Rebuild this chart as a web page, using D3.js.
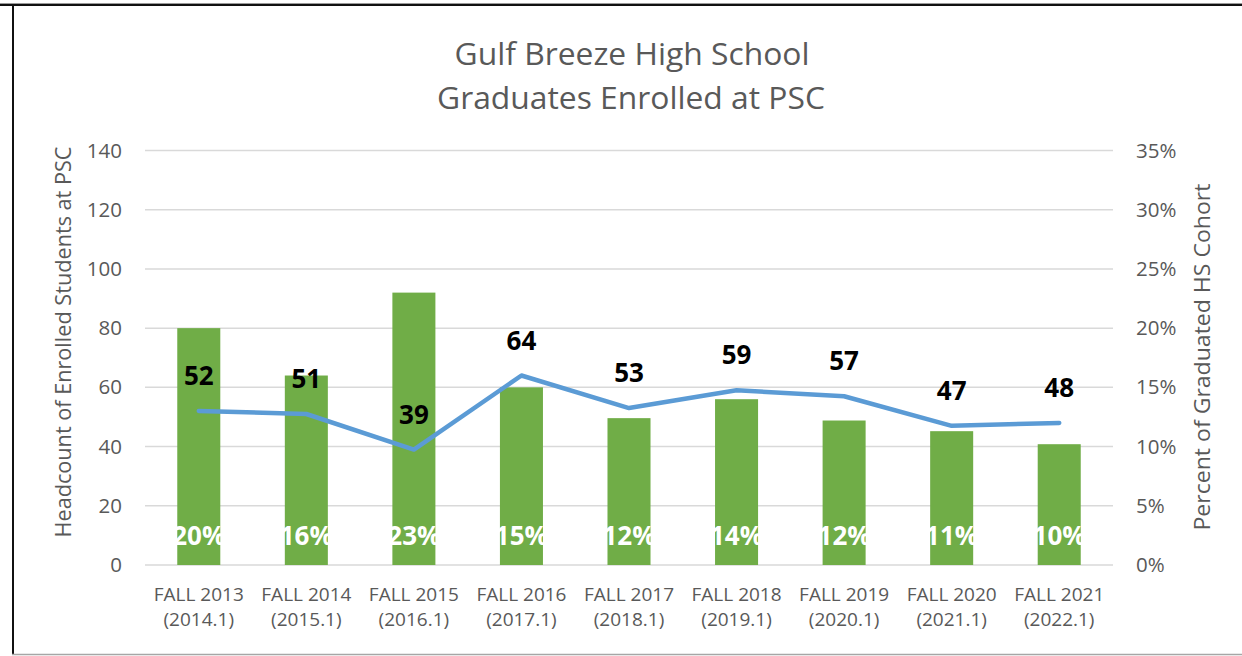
<!DOCTYPE html>
<html lang="en">
<head>
    <meta charset="UTF-8">
    <title>Gulf Breeze High School Graduates Enrolled at PSC</title>
    <script src="https://d3js.org/d3.v7.min.js"></script>
    <style>
        body { margin: 0; background: #fff; }
        svg { display: block; font-family: "Open Sans", sans-serif; }
        .tick text { fill: #595959; font-size: 20.5px; font-family: "Open Sans", sans-serif; }
        .xaxis .tick text { font-size: 19px; }
    </style>
</head>
<body>
    <svg width="1242" height="656"></svg>
    <script>
        // Chart data
        const terms = ["FALL 2013", "FALL 2014", "FALL 2015", "FALL 2016", "FALL 2017",
                       "FALL 2018", "FALL 2019", "FALL 2020", "FALL 2021"];
        const termCodes = ["(2014.1)", "(2015.1)", "(2016.1)", "(2017.1)", "(2018.1)",
                           "(2019.1)", "(2020.1)", "(2021.1)", "(2022.1)"];
        const pctOfCohort = [0.20, 0.16, 0.23, 0.15, 0.124, 0.14, 0.122, 0.113, 0.102];
        const headcount = [52, 51, 39, 64, 53, 59, 57, 47, 48];
        const leftTicks = [0, 20, 40, 60, 80, 100, 120, 140];
        const rightTicks = [0, 0.05, 0.10, 0.15, 0.20, 0.25, 0.30, 0.35];

        const svg = d3.select("svg");
        const plot = { left: 145, right: 1113, top: 150.5, bottom: 565 };

        // frame
        svg.append("line").attr("x1", 0).attr("x2", 1242).attr("y1", 3.5).attr("y2", 3.5)
            .attr("stroke", "#9a9a9a").attr("stroke-width", 1);
        svg.append("line").attr("x1", 0).attr("x2", 1242).attr("y1", 5).attr("y2", 5)
            .attr("stroke", "#111").attr("stroke-width", 2);
        svg.append("line").attr("x1", 13).attr("x2", 13).attr("y1", 5).attr("y2", 655)
            .attr("stroke", "#111").attr("stroke-width", 2);
        svg.append("line").attr("x1", 12).attr("x2", 1242).attr("y1", 654.5).attr("y2", 654.5)
            .attr("stroke", "#a6a6a6").attr("stroke-width", 1.5);

        // scales
        const x = d3.scaleBand().domain(terms).range([plot.left, plot.right])
            .paddingInner(0.6).paddingOuter(0.3);
        const yCount = d3.scaleLinear().domain([0, 140]).range([plot.bottom, plot.top]);
        const yPct = d3.scaleLinear().domain([0, 0.35]).range([plot.bottom, plot.top]);

        // gridlines
        svg.append("g")
            .selectAll("line")
            .data(leftTicks)
            .join("line")
            .attr("x1", plot.left).attr("x2", plot.right)
            .attr("y1", d => yCount(d)).attr("y2", d => yCount(d))
            .attr("stroke", "#d9d9d9").attr("stroke-width", 1.5);

        // axes
        svg.append("g")
            .attr("transform", `translate(${plot.left},0)`)
            .call(d3.axisLeft(yCount).tickValues(leftTicks).tickSize(0).tickPadding(23))
            .call(g => g.select(".domain").remove());

        svg.append("g")
            .attr("transform", `translate(${plot.right},0)`)
            .call(d3.axisRight(yPct).tickValues(rightTicks).tickSize(0).tickPadding(23)
                .tickFormat(d3.format(".0%")))
            .call(g => g.select(".domain").remove());

        const xAxis = svg.append("g")
            .attr("class", "xaxis")
            .attr("transform", `translate(0,${plot.bottom})`)
            .call(d3.axisBottom(x).tickSize(0).tickFormat(""))
            .call(g => g.select(".domain").remove());

        // two-line category labels
        xAxis.selectAll(".tick text").each(function (d, i) {
            const t = d3.select(this).attr("dy", null).attr("y", null);
            t.append("tspan").attr("x", 0).attr("y", 36).text(d);
            t.append("tspan").attr("x", 0).attr("y", 61).text(termCodes[i]);
        });

        // bars (percent of cohort, right axis)
        svg.append("g")
            .selectAll("rect")
            .data(pctOfCohort)
            .join("rect")
            .attr("x", (d, i) => x(terms[i]))
            .attr("y", d => yPct(d))
            .attr("width", x.bandwidth())
            .attr("height", d => plot.bottom - yPct(d))
            .attr("fill", "#70ad47");

        // bar labels
        svg.append("g")
            .selectAll("text")
            .data(pctOfCohort)
            .join("text")
            .attr("x", (d, i) => x(terms[i]) + x.bandwidth() / 2)
            .attr("y", plot.bottom - 20)
            .attr("text-anchor", "middle")
            .attr("font-size", 26)
            .attr("font-weight", "bold")
            .attr("fill", "#fff")
            .text(d => d3.format(".0%")(d));

        // headcount line (left axis)
        const line = d3.line()
            .x((d, i) => x(terms[i]) + x.bandwidth() / 2)
            .y(d => yCount(d));

        svg.append("path")
            .datum(headcount)
            .attr("d", line)
            .attr("fill", "none")
            .attr("stroke", "#5b9bd5")
            .attr("stroke-width", 4.5)
            .attr("stroke-linejoin", "round")
            .attr("stroke-linecap", "round");

        svg.append("g")
            .selectAll("text")
            .data(headcount)
            .join("text")
            .attr("x", (d, i) => x(terms[i]) + x.bandwidth() / 2)
            .attr("y", d => yCount(d) - 26)
            .attr("text-anchor", "middle")
            .attr("font-size", 26)
            .attr("font-weight", "bold")
            .attr("fill", "#000")
            .text(d => d);

        // titles
        const title = svg.append("text")
            .attr("text-anchor", "middle")
            .attr("font-size", 31)
            .attr("fill", "#595959");
        title.append("tspan").attr("x", 632).attr("y", 65)
            .attr("textLength", 355).attr("lengthAdjust", "spacingAndGlyphs")
            .text("Gulf Breeze High School");
        title.append("tspan").attr("x", 631).attr("y", 109)
            .attr("textLength", 388).attr("lengthAdjust", "spacingAndGlyphs")
            .text("Graduates Enrolled at PSC");

        svg.append("text")
            .attr("transform", "translate(71,342) rotate(-90)")
            .attr("text-anchor", "middle")
            .attr("font-size", 21)
            .attr("fill", "#595959")
            .attr("textLength", 391).attr("lengthAdjust", "spacingAndGlyphs")
            .text("Headcount of Enrolled Students at PSC");

        svg.append("text")
            .attr("transform", "translate(1210,357) rotate(-90)")
            .attr("text-anchor", "middle")
            .attr("font-size", 21)
            .attr("fill", "#595959")
            .attr("textLength", 347).attr("lengthAdjust", "spacingAndGlyphs")
            .text("Percent of Graduated HS Cohort");
    </script>
</body>
</html>
